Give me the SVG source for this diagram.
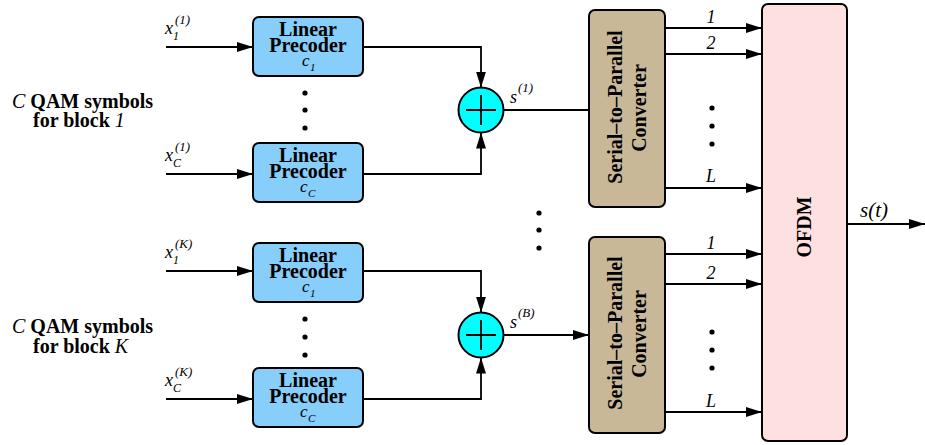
<svg xmlns="http://www.w3.org/2000/svg" width="925" height="445" viewBox="0 0 925 445">
<defs>
<marker id="ah" markerUnits="userSpaceOnUse" markerWidth="16" markerHeight="10" refX="16" refY="5" orient="auto">
<path d="M0,0 L16,5 L0,10 z" fill="#000"/>
</marker>
<style>
text{font-family:Liberation Serif, DejaVu Serif, serif}
.b{font-weight:bold;font-size:20px;fill:#000}
.i{font-style:italic;font-weight:normal;fill:#000}
.lp{fill:#87CEFA;stroke:#000;stroke-width:2}
.sp{fill:#C8B898;stroke:#000;stroke-width:2}
.of{fill:#FFE0E0;stroke:#000;stroke-width:2}
.sum{fill:#00FFFF;stroke:#000;stroke-width:2}
.ln{fill:none;stroke:#000;stroke-width:1.8}
.ar{fill:none;stroke:#000;stroke-width:1.8;marker-end:url(#ah)}
.dot{fill:#000}
</style>
</defs>
<rect width="925" height="445" fill="#fff"/>

<g id="label-block1">
<text x="12" y="108" class="b"><tspan class="i">C</tspan> QAM symbols</text>
<text x="33" y="127" class="b">for block <tspan class="i">1</tspan></text>
</g>
<g id="label-blockK">
<text x="12" y="333" class="b"><tspan class="i">C</tspan> QAM symbols</text>
<text x="33" y="353" class="b">for block <tspan class="i">K</tspan></text>
</g>

<g id="inputs-labels">
<text x="165" y="34" class="i" font-size="18">x</text><text x="173" y="40" class="i" font-size="12">1</text><text x="175" y="24" class="i" font-size="13">(1)</text>
<text x="165" y="161" class="i" font-size="18">x</text><text x="173" y="167" class="i" font-size="12">C</text><text x="175" y="151" class="i" font-size="13">(1)</text>
<text x="165" y="258" class="i" font-size="18">x</text><text x="173" y="264" class="i" font-size="12">1</text><text x="175" y="248" class="i" font-size="13">(K)</text>
<text x="165" y="386" class="i" font-size="18">x</text><text x="173" y="392" class="i" font-size="12">C</text><text x="175" y="376" class="i" font-size="13">(K)</text>
</g>

<g id="precoder-1-1">
<rect x="253" y="17" width="110" height="59" rx="6" class="lp"/>
<text x="308" y="36" class="b" text-anchor="middle">Linear</text>
<text x="308" y="52" class="b" text-anchor="middle">Precoder</text>
<text x="302" y="66" class="i" font-size="17">c</text><text x="310" y="71" class="i" font-size="11">1</text>
</g>
<g id="precoder-1-C">
<rect x="253" y="143" width="110" height="59" rx="6" class="lp"/>
<text x="308" y="162" class="b" text-anchor="middle">Linear</text>
<text x="308" y="178" class="b" text-anchor="middle">Precoder</text>
<text x="300" y="192" class="i" font-size="17">c</text><text x="308" y="197" class="i" font-size="11">C</text>
</g>
<g id="precoder-K-1">
<rect x="253" y="243" width="110" height="59" rx="6" class="lp"/>
<text x="308" y="262" class="b" text-anchor="middle">Linear</text>
<text x="308" y="278" class="b" text-anchor="middle">Precoder</text>
<text x="302" y="292" class="i" font-size="17">c</text><text x="310" y="297" class="i" font-size="11">1</text>
</g>
<g id="precoder-K-C">
<rect x="253" y="368" width="110" height="59" rx="6" class="lp"/>
<text x="308" y="387" class="b" text-anchor="middle">Linear</text>
<text x="308" y="403" class="b" text-anchor="middle">Precoder</text>
<text x="300" y="417" class="i" font-size="17">c</text><text x="308" y="422" class="i" font-size="11">C</text>
</g>

<g id="dots">
<circle cx="305" cy="93" r="2.6" class="dot"/><circle cx="305" cy="110" r="2.6" class="dot"/><circle cx="305" cy="128" r="2.6" class="dot"/>
<circle cx="305" cy="319" r="2.6" class="dot"/><circle cx="305" cy="337" r="2.6" class="dot"/><circle cx="305" cy="355" r="2.6" class="dot"/>
<circle cx="539" cy="213" r="2.6" class="dot"/><circle cx="539" cy="230" r="2.6" class="dot"/><circle cx="539" cy="248" r="2.6" class="dot"/>
<circle cx="712" cy="108" r="2.6" class="dot"/><circle cx="712" cy="126" r="2.6" class="dot"/><circle cx="712" cy="144" r="2.6" class="dot"/>
<circle cx="712" cy="332" r="2.6" class="dot"/><circle cx="712" cy="350" r="2.6" class="dot"/><circle cx="712" cy="368" r="2.6" class="dot"/>
</g>

<g id="sum-1">
<circle cx="481" cy="110" r="22.5" class="sum"/>
<path d="M466,110 H496 M481,95 V125" stroke="#000" stroke-width="1.8"/>
<text x="510" y="103" class="i" font-size="18">s</text><text x="518" y="92" class="i" font-size="13">(1)</text>
</g>
<g id="sum-B">
<circle cx="481" cy="335" r="22.5" class="sum"/>
<path d="M466,335 H496 M481,320 V350" stroke="#000" stroke-width="1.8"/>
<text x="510" y="328" class="i" font-size="18">s</text><text x="518" y="317" class="i" font-size="13">(B)</text>
</g>

<g id="sp-1">
<rect x="589" y="10" width="76" height="197" rx="6" class="sp"/>
<text transform="translate(622,107) rotate(-90)" class="b" text-anchor="middle">Serial–to–Parallel</text>
<text transform="translate(646,108) rotate(-90)" class="b" text-anchor="middle">Converter</text>
</g>
<g id="sp-B">
<rect x="589" y="237" width="76" height="196" rx="6" class="sp"/>
<text transform="translate(622,333) rotate(-90)" class="b" text-anchor="middle">Serial–to–Parallel</text>
<text transform="translate(646,334) rotate(-90)" class="b" text-anchor="middle">Converter</text>
</g>

<g id="ofdm">
<rect x="762" y="4" width="85" height="437" rx="6" class="of"/>
<text transform="translate(811,227) rotate(-90)" class="b" text-anchor="middle" font-size="19">OFDM</text>
</g>

<g id="connectors">
<path d="M166,47 H253" class="ar"/>
<path d="M166,174 H253" class="ar"/>
<path d="M166,271 H253" class="ar"/>
<path d="M166,399 H253" class="ar"/>
<path d="M363,47 H481 V87.5" class="ar"/>
<path d="M363,174 H481 V132.5" class="ar"/>
<path d="M363,271 H481 V312.5" class="ar"/>
<path d="M363,399 H481 V357.5" class="ar"/>
<path d="M503.5,110 H589" class="ln"/>
<path d="M503.5,335 H589" class="ar"/>
<path d="M665,28 H762" class="ar"/>
<path d="M665,54 H762" class="ar"/>
<path d="M665,188 H762" class="ar"/>
<path d="M665,254 H762" class="ar"/>
<path d="M665,284 H762" class="ar"/>
<path d="M665,412 H762" class="ar"/>
<path d="M847,224 H925" class="ar"/>
</g>

<g id="channel-labels">
<text x="711" y="23" class="i" font-size="18" text-anchor="middle">1</text>
<text x="711" y="49" class="i" font-size="18" text-anchor="middle">2</text>
<text x="711" y="182" class="i" font-size="18" text-anchor="middle">L</text>
<text x="711" y="249" class="i" font-size="18" text-anchor="middle">1</text>
<text x="711" y="279" class="i" font-size="18" text-anchor="middle">2</text>
<text x="711" y="407" class="i" font-size="18" text-anchor="middle">L</text>
<text x="860" y="217" class="i" font-size="21">s(t)</text>
</g>
</svg>
